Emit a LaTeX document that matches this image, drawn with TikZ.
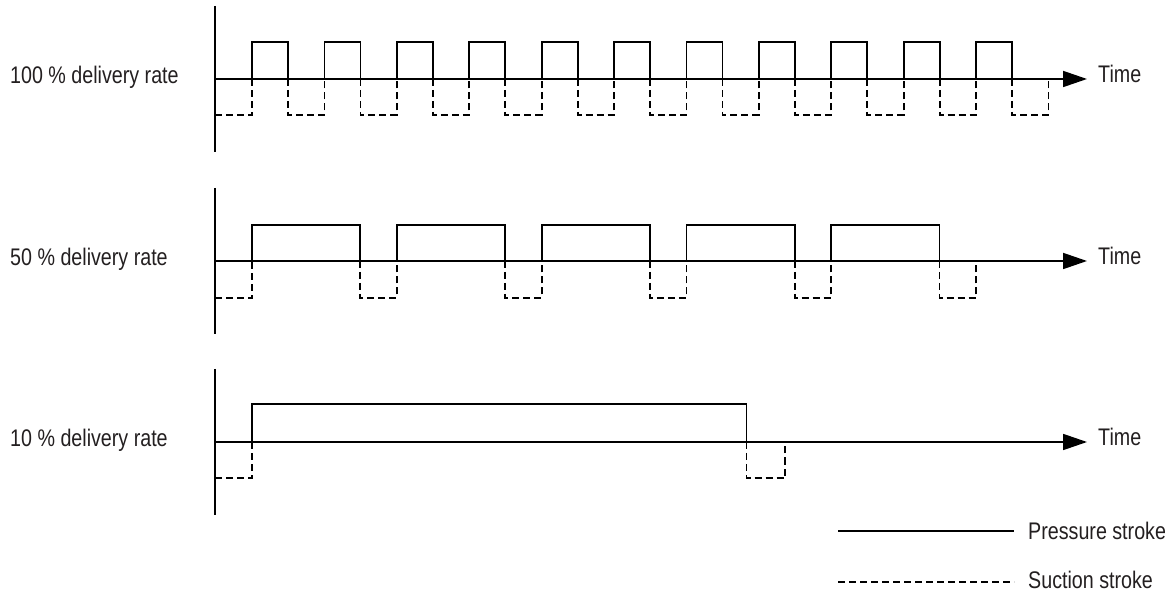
\documentclass[tikz,border=0pt]{standalone}
\usepackage{fontspec}
\setmainfont{Liberation Sans}[FakeStretch=0.82]
\usetikzlibrary{arrows.meta}
\definecolor{ink}{HTML}{231F20}
\begin{document}
\begin{tikzpicture}[x=1pt,y=-1pt,
  wave/.style={line width=1.8pt, line join=miter},
  suct/.style={line width=1.8pt, dash pattern=on 7pt off 4pt},
  axisline/.style={line width=1.8pt},
  timeaxis/.style={line width=1.8pt, -{Triangle[length=24pt,width=16pt]}},
  lbl/.style={anchor=base west, inner sep=0pt, text=ink, font=\fontsize{24}{28}\selectfont}]
\useasboundingbox (0,0) rectangle (1165,593);

% ---------- panel 1 : 100 %
\coordinate (a1t) at (215,6);
\coordinate (a1b) at (215,152);
\coordinate (t1s) at (215,79);
\coordinate (t1e) at (1087,79);
\draw[axisline] (a1t) -- (a1b);
\draw[timeaxis] (t1s) -- (t1e);
\node[lbl] (l1) at (10,83.5) {100 \% delivery rate};
\node[lbl] (time1) at (1098,83) {Time};
\draw[suct] (215,115) -- (252,115) -- (252,79);
\foreach \i in {0,...,10}{
  \pgfmathsetmacro{\r}{252+72.4*\i}
  \pgfmathsetmacro{\f}{\r+36}
  \pgfmathsetmacro{\n}{\r+72.4}
  \draw[wave] (\r,79) -- (\r,42) -- (\f,42) -- (\f,79);
  \draw[suct] (\f,79) -- (\f,115) -- (\n,115) -- (\n,79);
}

% ---------- panel 2 : 50 %
\coordinate (a2t) at (215,188);
\coordinate (a2b) at (215,334);
\coordinate (t2s) at (215,261);
\coordinate (t2e) at (1087,261);
\draw[axisline] (a2t) -- (a2b);
\draw[timeaxis] (t2s) -- (t2e);
\node[lbl] (l2) at (10,265.5) {50 \% delivery rate};
\node[lbl] (time2) at (1098,265) {Time};
\draw[suct] (215,298) -- (252,298) -- (252,261);
\foreach \i in {0,...,4}{
  \pgfmathsetmacro{\r}{252+144.8*\i}
  \pgfmathsetmacro{\f}{\r+108.3}
  \pgfmathsetmacro{\n}{\r+144.8}
  \draw[wave] (\r,261) -- (\r,225) -- (\f,225) -- (\f,261);
  \draw[suct] (\f,261) -- (\f,298) -- (\n,298) -- (\n,261);
}

% ---------- panel 3 : 10 %
\coordinate (a3t) at (215,369);
\coordinate (a3b) at (215,515);
\coordinate (t3s) at (215,442);
\coordinate (t3e) at (1087,442);
\draw[axisline] (a3t) -- (a3b);
\draw[timeaxis] (t3s) -- (t3e);
\node[lbl] (l3) at (10,446.5) {10 \% delivery rate};
\node[lbl] (time3) at (1098,446) {Time};
\draw[suct] (215,478) -- (252,478) -- (252,442);
\draw[wave] (252,442) -- (252,404) -- (746.5,404) -- (746.5,442);
\draw[suct] (746.5,442) -- (746.5,478) -- (785,478) -- (785,442);

% ---------- legend
\coordinate (p1) at (838,531);
\coordinate (p2) at (1014,531);
\coordinate (s1) at (838,582);
\coordinate (s2) at (1014,582);
\draw[line width=1.8pt] (p1) -- (p2);
\draw[suct] (s1) -- (s2);
\node[lbl] (lp) at (1028,539.5) {Pressure stroke};
\node[lbl] (ls) at (1028,588) {Suction stroke};
\end{tikzpicture}
\end{document}
